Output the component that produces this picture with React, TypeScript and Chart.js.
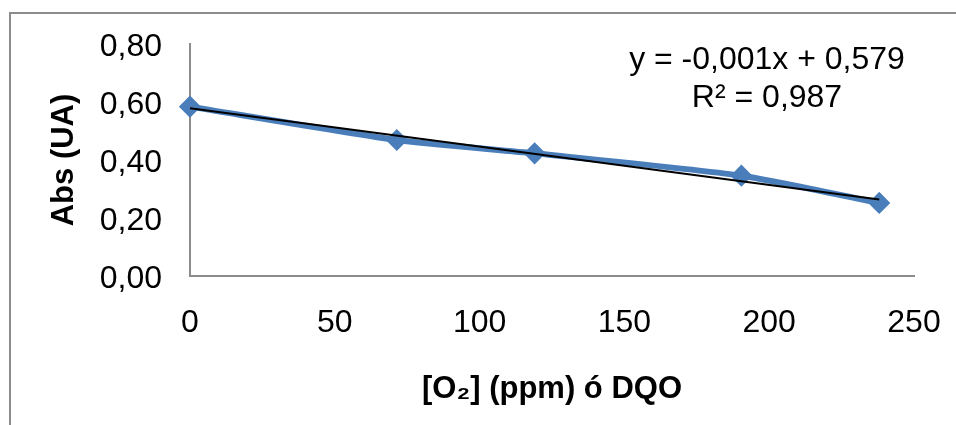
import React, { useEffect, useRef } from "react";
import { Chart, registerables } from "chart.js";

Chart.register(...registerables);

// ---- data ----
const o2Values = [0, 71.4, 119, 190.4, 238];
const absValues = [0.584, 0.469, 0.423, 0.346, 0.252];
const yTickValues = [0, 0.2, 0.4, 0.6, 0.8];
const xTickValues = [0, 50, 100, 150, 200, 250];
const equationLines = ["y = -0,001x + 0,579", "R² = 0,987"];
const yTitle = "Abs (UA)";
const xTitle = "[O₂] (ppm) ó DQO";

const FONT = "'Liberation Sans', Arial, sans-serif";
const W = 956;
const H = 425;

// least-squares trend line from the data arrays
function linearFit(xs: number[], ys: number[]) {
  const n = xs.length;
  const mx = xs.reduce((a, b) => a + b, 0) / n;
  const my = ys.reduce((a, b) => a + b, 0) / n;
  let sxy = 0;
  let sxx = 0;
  for (let i = 0; i < n; i++) {
    sxy += (xs[i] - mx) * (ys[i] - my);
    sxx += (xs[i] - mx) * (xs[i] - mx);
  }
  const slope = sxy / sxx;
  return { slope, intercept: my - slope * mx };
}

const framePlugin = {
  id: "frameAndEquation",
  beforeDraw(chart: any) {
    const ctx = chart.ctx;
    ctx.save();
    ctx.fillStyle = "#ffffff";
    ctx.fillRect(0, 0, chart.width, chart.height);
    ctx.strokeStyle = "#8c8c8c";
    ctx.lineWidth = 2;
    ctx.beginPath();
    ctx.moveTo(10, chart.height);
    ctx.lineTo(10, 13);
    ctx.lineTo(chart.width, 13);
    ctx.stroke();
    ctx.restore();
  },
  afterDraw(chart: any) {
    const ctx = chart.ctx;
    const area = chart.chartArea;
    ctx.save();
    ctx.fillStyle = "#000000";
    ctx.font = `32px ${FONT}`;
    ctx.textAlign = "center";
    ctx.textBaseline = "middle";
    const cx = area.right - 147;
    ctx.fillText(equationLines[0], cx, area.top + 16);
    ctx.fillText(equationLines[1], cx, area.top + 54);
    ctx.restore();
  },
};

export default function App() {
  const canvasRef = useRef<HTMLCanvasElement | null>(null);

  useEffect(() => {
    if (!canvasRef.current) return;
    const fit = linearFit(o2Values, absValues);
    const xMin = Math.min(...o2Values);
    const xMax = Math.max(...o2Values);
    const trend = [
      { x: xMin, y: fit.intercept + fit.slope * xMin },
      { x: xMax, y: fit.intercept + fit.slope * xMax },
    ];
    const points = o2Values.map((x, i) => ({ x, y: absValues[i] }));

    const chart = new Chart(canvasRef.current, {
      type: "scatter",
      data: {
        datasets: [
          {
            label: "trend",
            data: trend,
            showLine: true,
            borderColor: "#000000",
            borderWidth: 2,
            pointRadius: 0,
            clip: false,
            order: 0,
          },
          {
            label: "Abs",
            data: points,
            showLine: true,
            borderColor: "#4A7EBB",
            backgroundColor: "#4A7EBB",
            borderWidth: 6,
            tension: 0.2,
            pointStyle: "rectRot",
            pointRadius: 10,
            pointBorderWidth: 1.5,
            pointBackgroundColor: "#4A7EBB",
            pointBorderColor: "#4A7EBB",
            clip: false,
            order: 1,
          },
        ],
      },
      options: {
        animation: false,
        responsive: false,
        devicePixelRatio: 1,
        layout: { padding: { left: 0, top: 44, right: 42, bottom: 0 } },
        plugins: {
          legend: { display: false },
          tooltip: { enabled: false },
        },
        scales: {
          x: {
            type: "linear",
            min: 0,
            max: 250,
            grid: { display: false, drawTicks: false },
            border: { display: true, color: "#8c8c8c", width: 2 },
            afterBuildTicks: (s: any) => {
              s.ticks = xTickValues.map((v) => ({ value: v }));
            },
            afterFit: (s: any) => {
              s.height = H - 276;
              s.paddingLeft = 0;
              s.paddingRight = 0;
            },
            ticks: {
              padding: 28,
              color: "#000000",
              font: { family: FONT, size: 32 },
              maxRotation: 0,
              callback: (v: any) => String(v),
            },
            title: {
              display: true,
              text: xTitle,
              color: "#000000",
              font: { family: FONT, size: 31, weight: "bold" },
              padding: { top: 0, bottom: 17 },
            },
          },
          y: {
            type: "linear",
            min: 0,
            max: 0.8,
            grid: { display: false, drawTicks: false },
            border: { display: true, color: "#8c8c8c", width: 2 },
            afterBuildTicks: (s: any) => {
              s.ticks = yTickValues.map((v) => ({ value: v }));
            },
            afterFit: (s: any) => {
              s.width = 190;
              s.paddingTop = 0;
              s.paddingBottom = 0;
            },
            ticks: {
              padding: 28,
              labelOffset: 3,
              color: "#000000",
              font: { family: FONT, size: 32 },
              callback: (v: any) => Number(v).toFixed(2).replace(".", ","),
            },
            title: {
              display: true,
              text: yTitle,
              color: "#000000",
              font: { family: FONT, size: 31, weight: "bold" },
              padding: { top: 46, bottom: 0 },
            },
          },
        },
      },
      plugins: [framePlugin],
    });
    return () => chart.destroy();
  }, []);

  return (
    <div
      style={{
        position: "fixed",
        left: 0,
        top: 0,
        width: W,
        height: H,
        overflow: "hidden",
        background: "#ffffff",
      }}
    >
      <canvas ref={canvasRef} width={W} height={H} style={{ width: W, height: H, display: "block" }} />
    </div>
  );
}
